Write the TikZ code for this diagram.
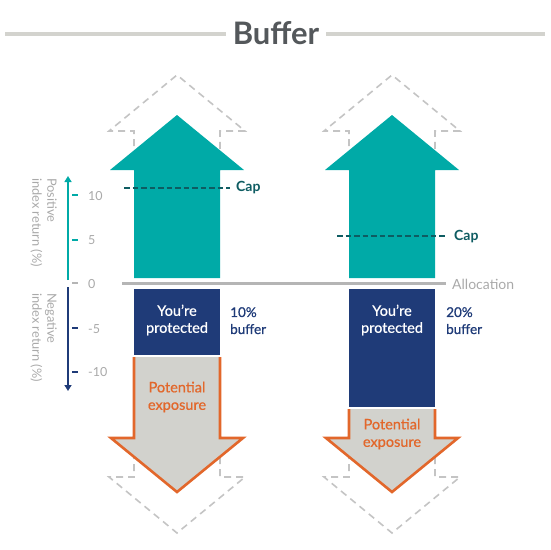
\documentclass[tikz,border=0pt]{standalone}
\usepackage{fontspec}
\setmainfont{Lato}
\newfontfamily\latomed[FakeBold=0.7]{Lato}
\usetikzlibrary{arrows.meta}
\definecolor{tealA}{HTML}{00AAA7}
\definecolor{navyA}{HTML}{1F3B78}
\definecolor{orangeA}{HTML}{E2672B}
\definecolor{fillgray}{HTML}{D2D2CD}
\definecolor{dashgray}{HTML}{C4C4C4}
\definecolor{labgray}{HTML}{A9A9A9}
\definecolor{capteal}{HTML}{0E5C62}
\definecolor{titlegray}{HTML}{54585B}
\definecolor{titleline}{HTML}{D3D3CE}
\definecolor{allocgray}{HTML}{B5B5B5}
\tikzset{
  ghost/.style={draw=dashgray, line width=1.6pt, dash pattern=on 7pt off 5pt, line join=miter},
  capline/.style={draw=capteal, line width=2.2pt, dash pattern=on 5.5pt off 3pt},
  captext/.style={text=capteal, font=\fontsize{14}{16}\selectfont\bfseries, anchor=west, inner sep=0pt},
  ticklab/.style={text=labgray, font=\fontsize{12.5}{14}\selectfont, anchor=west, inner sep=0pt},
  axislab/.style={text=labgray, font=\fontsize{12.8}{15}\selectfont, rotate=-90, align=left, inner sep=0pt, anchor=north west},
  protbox/.style={fill=navyA, draw=none},
  prottext/.style={text=white, font=\latomed\fontsize{14.5}{17}\selectfont, align=center},
  buftext/.style={text=navyA, font=\latomed\fontsize{13.5}{17}\selectfont, align=left, anchor=north west, inner sep=0pt},
  exptext/.style={text=orangeA, font=\latomed\fontsize{14.5}{17.5}\selectfont, align=center},
  tickA/.style={line width=2pt}
}
\begin{document}
\begin{tikzpicture}[x=1pt,y=-1pt]
\useasboundingbox (0,0) rectangle (550,550);
% title
\node[text=titlegray, font=\fontsize{31}{33}\selectfont\bfseries] (title) at (276,33) {Buffer};
\draw[titleline, line width=4.5pt] (5,34) -- (226,34);
\draw[titleline, line width=4.5pt] (326,34) -- (545,34);

% ghost arrows and main shapes for both columns
\foreach \cx/\et/\bb in {177/357/355, 392/409/407}{
  % dashed up outline
  \draw[ghost] (\cx-43,170) -- (\cx-43,131) -- (\cx-68,131) -- (\cx,75) -- (\cx+68,131) -- (\cx+43,131) -- (\cx+43,170);
  % dashed down outline
  \draw[ghost] (\cx-43,440) -- (\cx-43,477) -- (\cx-68,477) -- (\cx,533) -- (\cx+68,477) -- (\cx+43,477) -- (\cx+43,440);
  % teal up arrow
  \fill[tealA] (\cx-43,278) -- (\cx-43,170) -- (\cx-67,170) -- (\cx,115) -- (\cx+67,170) -- (\cx+43,170) -- (\cx+43,278) -- cycle;
  % exposure arrow
  \fill[fillgray] (\cx-43,\et) -- (\cx-43,438) -- (\cx-66,438) -- (\cx,492) -- (\cx+66,438) -- (\cx+43,438) -- (\cx+43,\et) -- cycle;
  \draw[orangeA, line width=2.6pt, line join=miter] (\cx-43,\et) -- (\cx-43,438) -- (\cx-66,438) -- (\cx,492) -- (\cx+66,438) -- (\cx+43,438) -- (\cx+43,\et);
  % protected box
  \fill[protbox] (\cx-43,289) rectangle (\cx+43,\bb);
}

% allocation line
\draw[allocgray, line width=3pt] (122,283) -- (446,283);
\node[text=labgray, font=\fontsize{14}{16}\selectfont, anchor=west, inner sep=0pt] (alloc) at (452,284) {Allocation};

% cap lines
\coordinate (capL1) at (124,188); \coordinate (capL2) at (230,188);
\draw[capline] (capL1) -- (capL2);
\node[captext] (capL) at (236,188) {Cap};
\coordinate (capR1) at (337,236); \coordinate (capR2) at (446,236);
\draw[capline] (capR1) -- (capR2);
\node[captext] (capR) at (454,237) {Cap};

% texts in boxes
\node[prottext] (protL) at (177,320) {You’re\\protected};
\node[prottext] (protR) at (392,320) {You’re\\protected};
\node[buftext] (bufL) at (230,307) {10\%\\buffer};
\node[buftext] (bufR) at (446,307) {20\%\\buffer};
\node[exptext] (expL) at (177,397) {Potential\\exposure};
\node[exptext] (expR) at (392,434) {Potential\\exposure};

% axis
\coordinate (a0t) at (68,280); \coordinate (atop) at (68,176);
\coordinate (a0b) at (68,287); \coordinate (abot) at (68,391);
\draw[tealA, line width=1.6pt, -{Triangle[length=6pt,width=7pt]}] (a0t) -- (atop);
\draw[navyA, line width=1.6pt, -{Triangle[length=6pt,width=7pt]}] (a0b) -- (abot);
\draw[tealA, tickA] (72,195) -- (78,195);
\draw[tealA, tickA] (72,240) -- (78,240);
\draw[allocgray, tickA] (72,283) -- (78,283);
\draw[navyA, tickA] (72,328) -- (78,328);
\draw[navyA, tickA] (72,372) -- (78,372);
\node[ticklab] (t10) at (88,196) {10};
\node[ticklab] (t5) at (88,240) {5};
\node[ticklab] (t0) at (88,284) {0};
\node[ticklab] (tm5) at (88,329) {-5};
\node[ticklab] (tm10) at (88,372) {-10};
\node[axislab] (posl) at (57,178) {Positive\\index return (\%)};
\node[axislab] (negl) at (57,293) {Negative\\index return (\%)};
\end{tikzpicture}
\end{document}
